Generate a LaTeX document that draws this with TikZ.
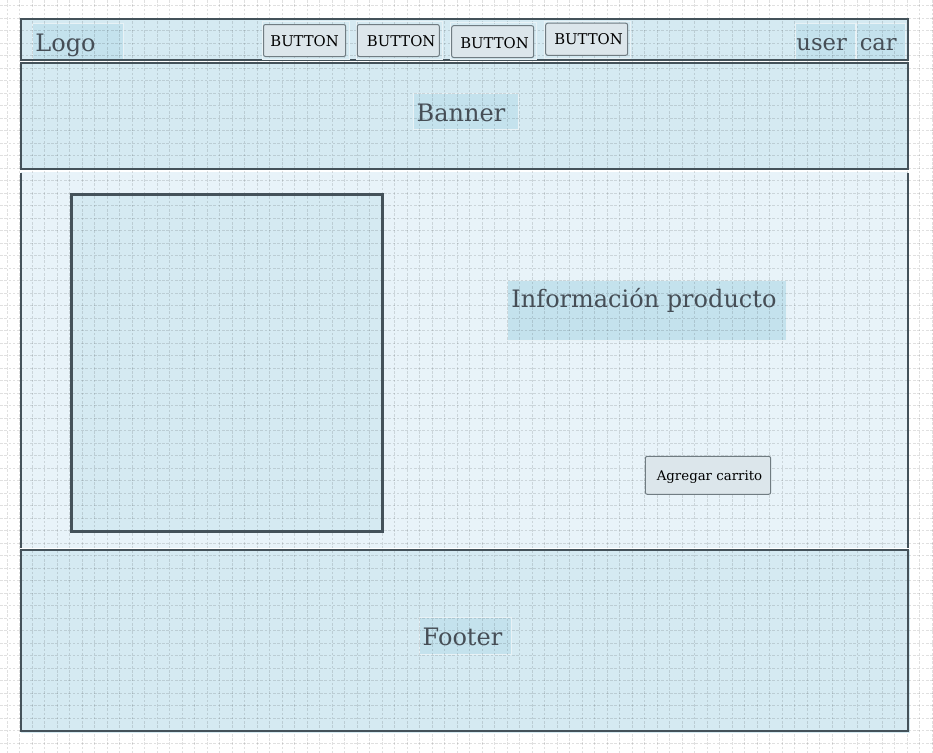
\documentclass[tikz,border=0pt]{standalone}
\usepackage{fontspec}
\setmainfont{DejaVu Serif}
\definecolor{secfill}{RGB}{213,234,242}
\definecolor{prodfill}{RGB}{232,243,249}
\definecolor{hlfill}{RGB}{196,226,237}
\definecolor{hlline}{RGB}{232,242,246}
\definecolor{border}{RGB}{68,82,90}
\definecolor{btnfill}{RGB}{220,230,235}
\definecolor{btnline}{RGB}{112,124,130}
\definecolor{txt}{RGB}{70,78,86}
\tikzset{
  gridline/.style={black, opacity=0.12, line width=0.75pt, dash pattern=on 2pt off 1.2pt},
  sect/.style={fill=secfill, draw=none},
  frame/.style={draw=border, line width=1.7pt},
  hl/.style={fill=hlfill, draw=hlline, line width=0.75pt},
  btn/.style={fill=btnfill, draw=btnline, line width=0.75pt, rounded corners=1.5pt},
  btnouter/.style={draw=hlline, line width=0.75pt},
  bigtxt/.style={anchor=base, inner sep=0pt, text=txt, font=\fontsize{18pt}{20pt}\selectfont},
  midtxt/.style={anchor=base, inner sep=0pt, text=txt, font=\fontsize{17pt}{19pt}\selectfont},
  btntxt/.style={anchor=base, inner sep=0pt, text=black, font=\fontsize{11.1pt}{13pt}\selectfont},
  smalltxt/.style={anchor=base, inner sep=0pt, text=black, font=\fontsize{10pt}{12pt}\selectfont}
}
\begin{document}
\begin{tikzpicture}[x=0.75pt, y=-0.75pt]
\useasboundingbox (0,0) rectangle (933,753);
\fill[white] (0,0) rectangle (933,753);
% section fills
\fill[secfill] (21.3,19.3) rectangle (907.7,59.7);
\fill[secfill] (21.3,62.7) rectangle (907.7,168.7);
\fill[prodfill] (21.3,171.5) rectangle (907.7,547.8);
\fill[secfill] (21.3,550) rectangle (909.7,733);
\fill[secfill] (71.5,194.5) rectangle (382.5,531.5);
% highlight label boxes
\draw[hl] (32,23.5) rectangle (123,59);
\draw[hl] (795,23.5) rectangle (855,59);
\draw[hl] (856.5,23.5) rectangle (905,59);
\draw[hl] (413,93) rectangle (518.5,129);
\draw[hl] (507,280.5) rectangle (786,340.5);
\draw[hl] (419,617) rectangle (511,654);
% grid
\foreach \i in {0,...,74} { \draw[gridline] ({7+12.5*\i},0) -- ({7+12.5*\i},753); }
\foreach \j in {0,...,59} { \draw[gridline] (0,{5.5+12.5*\j}) -- (933,{5.5+12.5*\j}); }
% frames
\draw[frame] (21.3,19.3) rectangle (907.7,59.7);
\draw[frame] (21.3,62.7) rectangle (907.7,168.7);
\draw[frame] (21.3,172.5) -- (21.3,547.5);
\draw[frame] (907.7,172.5) -- (907.7,547.5);
\draw[white, line width=1pt] (20,170.7) -- (909,170.7);
\draw[white, line width=1pt] (20,548.7) -- (909,548.7);
\draw[frame] (21.3,550) rectangle (907.7,731);
\draw[frame] (71.5,194.5) rectangle (382.5,531.5);
% buttons
\draw[btnouter] (262.3,21.7) rectangle (349.3,59);
\draw[btnouter] (356,21.7) rectangle (442.5,59);
\draw[btnouter] (450,22) rectangle (536.5,59);
\draw[btnouter] (544,21) rectangle (630.5,58);
\draw[btn] (263.5,24.5) rectangle (345.7,56.5);
\draw[btn] (357.3,24.5) rectangle (439.3,56.5);
\draw[btn] (451.7,25.7) rectangle (533.7,57.5);
\draw[btn] (545.7,23.2) rectangle (627.7,55.3);
\draw[btn] (645.3,456.3) rectangle (770.7,494.3);
% texts
\node[bigtxt] (logo) at (65.5,51.7) {Logo};
\node[midtxt] (user) at (821.7,50.7) {user};
\node[midtxt] (car) at (878.3,50.7) {car};
\node[bigtxt] (banner) at (461,121) {Banner};
\node[bigtxt] (info) at (644,307.3) {Información producto};
\node[bigtxt] (footer) at (462.5,645.5) {Footer};
\node[btntxt] (b1) at (304.6,46.7) {BUTTON};
\node[btntxt] (b2) at (401.2,46.7) {BUTTON};
\node[btntxt] (b3) at (494.5,48.3) {BUTTON};
\node[btntxt] (b4) at (588.5,45) {BUTTON};
\node[smalltxt] (add) at (709.5,480.7) {Agregar carrito};
\end{tikzpicture}
\end{document}
